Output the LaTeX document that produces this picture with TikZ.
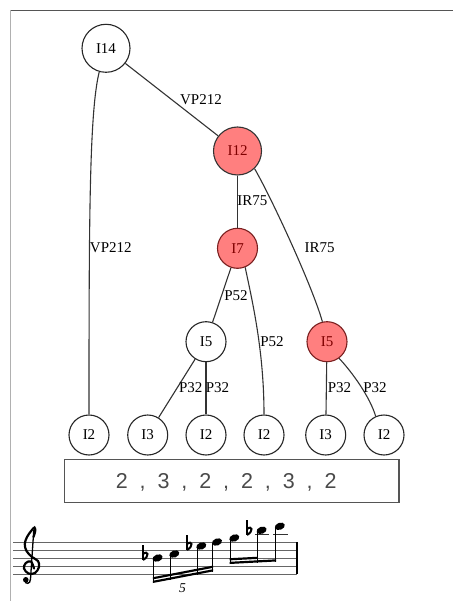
\documentclass[tikz,border=0pt]{standalone}
\usepackage{fontspec}
\setmainfont{Liberation Serif}
\newfontfamily\boxfont{Liberation Sans}
\usetikzlibrary{shapes.geometric}
\definecolor{redfill}{HTML}{FF7F7F}
\definecolor{redtext}{HTML}{7F0000}
\definecolor{redborder}{HTML}{7A1F1F}
\definecolor{edgecol}{HTML}{333333}
\definecolor{framedark}{HTML}{555555}
\definecolor{framelight}{HTML}{B0B0B0}
\definecolor{seqgray}{HTML}{4A4A4A}
\definecolor{staffgray}{HTML}{666666}
\newcommand{\seqgap}{\hspace{11.9pt}}
\begin{document}
\begin{tikzpicture}[x=1pt,y=-1pt,
  tnode/.style={circle, draw=black!85, line width=1.1pt, fill=white, minimum size=40pt, inner sep=0pt, font=\fontsize{15}{17}\selectfont},
  bignode/.style={tnode, minimum size=48pt},
  hot/.style={fill=redfill, text=redtext, draw=redborder},
  edge/.style={draw=edgecol, line width=1.1pt},
  elabel/.style={font=\fontsize{15}{17}\selectfont, inner sep=0pt},
  head/.style={ellipse, fill=black, minimum width=10.4pt, minimum height=7pt, inner sep=0pt, rotate=20},
  stemline/.style={line width=1pt},
  ledger/.style={line width=1pt, draw=black!80},
  flatsign/.pic={\draw[line width=1.1pt] (0,-15) -- (0,0);
                 \draw[line width=2pt] (0,-6) .. controls (5,-10) and (7,-4) .. (0,0);}]
\useasboundingbox (0,0) rectangle (453,601);
% frame
\draw[framedark, line width=1.3pt] (10,10.5) -- (453,10.5);
\draw[framelight, line width=1.2pt] (10.5,10) -- (10.5,601);

% nodes
\node[bignode] (I14) at (106,48.3) {I14};
\node[bignode, hot, draw=black!80] (I12) at (237.5,151) {I12};
\node[tnode, hot] (I7) at (237.5,248.3) {I7};
\node[tnode] (I5l) at (206,341.7) {I5};
\node[tnode, hot] (I5r) at (327,341.7) {I5};
\node[tnode] (I2a) at (89,435) {I2};
\node[tnode] (I3a) at (147.7,435) {I3};
\node[tnode] (I2c) at (206,435) {I2};
\node[tnode] (I2d) at (264,435) {I2};
\node[tnode] (I3b) at (325.7,435) {I3};
\node[tnode] (I2f) at (384,435) {I2};

% edges
\draw[edge] (I14) -- (I12);
\draw[edge] (I14.-106) .. controls (89.5,111) and (89,215) .. (I2a.north);
\draw[edge] (I12) -- (I7);
\draw[edge] (I12.-46) .. controls (270,195) and (312,285) .. (I5r.103);
\draw[edge] (I7) -- (I5l);
\draw[edge] (I7.-68) .. controls (252,300) and (264,350) .. (I2d.north);
\draw[edge] (I5l) -- (I3a);
\draw[edge] (I5l) -- (I2c);
\draw[edge] (I5r) -- (I3b);
\draw[edge] (I5r.-54) .. controls (352,372) and (370,397) .. (I2f.114);

% edge labels
\node[elabel] (l1) at (201,99.5) {VP212};
\node[elabel] (l2) at (110.8,248) {VP212};
\node[elabel] (l3) at (252.3,201) {IR75};
\node[elabel] (l4) at (319.7,248) {IR75};
\node[elabel] (l5) at (236,296) {P52};
\node[elabel] (l6) at (272,342) {P52};
\node[elabel] (l7) at (190.7,388) {P32};
\node[elabel] (l8) at (217.5,388) {P32};
\node[elabel] (l9) at (339.5,388) {P32};
\node[elabel] (l10) at (375,388) {P32};

% sequence box
\node[draw=framedark, line width=1.1pt, minimum width=334.7pt, minimum height=43pt, inner sep=0pt] (seqbox) at (231.65,480.8) {};
\node[anchor=base, inner sep=0pt, text=seqgray, font=\boxfont\fontsize{21.5}{24}\selectfont] (seqtext) at (226.2,488.3)
  {2\seqgap,\seqgap3\seqgap,\seqgap2\seqgap,\seqgap2\seqgap,\seqgap3\seqgap,\seqgap2};

% staff
\foreach \yy in {542.3,550.3,558.3,566.3,574.3}
  \draw[staffgray, line width=1pt] (13.3,\yy) -- (297,\yy);
\draw[line width=1.2pt] (297,542.3) -- (297,574.3);

% treble clef
\draw[line width=2.2pt, line cap=round] plot[smooth, tension=0.6] coordinates {
  (34,568.5) (31,561.5) (25.8,563) (24,568.5) (28.5,573.5) (35,573) (39,567) (38,561)
  (32,557) (26.5,551) (24.8,544) (27,537) (31.5,530.5) (34.5,527.5) (35.2,531) (33.5,537)};
\draw[line width=1.3pt] (33.8,530) -- (30.5,579);
\draw[line width=1.4pt] (30.5,579) .. controls (30.5,584.5) and (25,584.5) .. (25,580.5);
\fill (25.8,579.8) circle (2.8pt);

% group 1 notes
\node[head] (n1) at (157.6,558) {};
\node[head] (n2) at (174.3,554) {};
\node[head] (n3) at (201.3,546) {};
\node[head] (n4) at (217,542) {};
\pic at (143,560) {flatsign};
\pic at (187,550) {flatsign};
\draw[stemline] (153.3,559) -- (153.3,583);
\draw[stemline] (170,555) -- (170,579.8);
\draw[stemline] (197,547) -- (197,574.5);
\draw[stemline] (212.7,543) -- (212.7,571.5);
\fill (152.8,583) -- (213.2,571.4) -- (213.2,569.2) -- (152.8,580.8) -- cycle;
\fill (152.8,579.4) -- (213.2,567.8) -- (213.2,565.6) -- (152.8,577.2) -- cycle;
\node[font=\itshape\fontsize{13.5}{15}\selectfont, inner sep=0pt] (tup) at (182.5,588) {5};

% group 2 notes
\draw[ledger] (255,534.3) -- (269.3,534.3);
\draw[ledger] (273.3,534.3) -- (288.3,534.3);
\node[head] (n5) at (234.3,538) {};
\node[head] (n6) at (261.6,530.3) {};
\node[head] (n7) at (279.8,526.3) {};
\pic at (247,535) {flatsign};
\draw[stemline] (230,539) -- (230,564);
\draw[stemline] (257.3,531) -- (257.3,562.5);
\draw[stemline] (275.5,527) -- (275.5,561.5);
\fill (229.5,564) -- (276,561.5) -- (276,559.3) -- (229.5,561.8) -- cycle;
\fill (229.5,560.4) -- (257.8,558.9) -- (257.8,556.7) -- (229.5,558.2) -- cycle;
\end{tikzpicture}
\end{document}
